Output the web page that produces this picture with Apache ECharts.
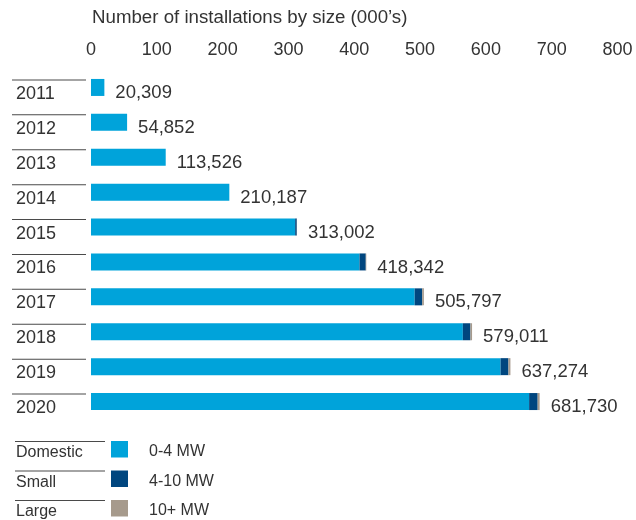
<!DOCTYPE html>
<html>
<head>
<meta charset="utf-8">
<script src="https://cdn.jsdelivr.net/npm/echarts@6/dist/echarts.min.js"></script>
<style>html,body{margin:0;padding:0;background:#fff}#c{width:636px;height:520px}</style>
</head>
<body>
<div id="c"></div>
<script>
// Data (thousands of installations)
var years = ['2011','2012','2013','2014','2015','2016','2017','2018','2019','2020'];
var totals = [20309, 54852, 113526, 210187, 313002, 418342, 505797, 579011, 637274, 681730];
var domestic = [20.309, 54.852, 113.526, 210.187, 310.2, 408.0, 491.8, 565.0, 622.3, 665.7];
var small = [0, 0, 0, 0, 2.5, 9.5, 11.5, 11.5, 12.0, 13.0];
var large = [0, 0, 0, 0, 0.3, 0.8, 2.5, 2.5, 3.0, 3.0];
var seriesNames = ['0-4 MW', '4-10 MW', '10+ MW'];
var groupNames = ['Domestic', 'Small', 'Large'];
var xTicks = [0, 100, 200, 300, 400, 500, 600, 700, 800];
var titleText = 'Number of installations by size (000\u2019s)';

var colors = ['#00a3da', '#00467f', '#a69a8c'];
var textColor = '#333333';
var lineColor = '#4a4a4a';
var font = '"Liberation Sans", Arial, Helvetica, sans-serif';

var chart = echarts.init(document.getElementById('c'), null, {renderer: 'canvas'});

function fmt(n) { return n.toString().replace(/\B(?=(\d{3})+(?!\d))/g, ','); }

var valuesBySeries = [domestic, small, large];
var series = seriesNames.map(function (name, i) {
  var s = {
    name: name,
    type: 'bar',
    stack: 'total',
    barWidth: 17,
    data: valuesBySeries[i],
    itemStyle: {color: colors[i]},
    emphasis: {disabled: true},
    animation: false
  };
  if (i === seriesNames.length - 1) {
    s.label = {
      show: true,
      position: 'right',
      distance: 11,
      offset: [0, 5.5],
      fontFamily: font,
      fontSize: 18.5,
      color: textColor,
      formatter: function (p) { return fmt(totals[p.dataIndex]); }
    };
  }
  return s;
});

var graphics = [];
var legendTop = 441;
var rowStep = 29.5;
groupNames.forEach(function (g, i) {
  graphics.push({
    type: 'rect',
    left: 15, top: legendTop + i * rowStep,
    shape: {width: 90, height: 1},
    style: {fill: lineColor},
    silent: true
  });
  graphics.push({
    type: 'text',
    left: 16, top: legendTop + i * rowStep + 4,
    style: {text: g, fontFamily: font, fontSize: 16, fill: textColor},
    silent: true
  });
});

chart.setOption({
  animation: false,
  backgroundColor: '#ffffff',
  title: {
    text: titleText,
    left: 92, top: 8,
    padding: 0,
    textStyle: {fontFamily: font, fontSize: 18.7, fontWeight: 'normal', color: textColor}
  },
  legend: {
    data: seriesNames,
    orient: 'vertical',
    left: 111, top: legendTop - 2.25,
    padding: 0,
    height: 120,
    itemWidth: 17, itemHeight: 16.5, itemGap: 8.5,
    icon: 'rect',
    selectedMode: false,
    formatter: function (name) { return '{t|' + name + '}'; },
    textStyle: {
      fontFamily: font, fontSize: 16, color: textColor,
      rich: {t: {fontFamily: font, fontSize: 16, lineHeight: 16, color: textColor, padding: [5, 0, 0, 16]}}
    }
  },
  grid: {left: 91, right: 18.5, top: 70, height: 349, containLabel: false},
  xAxis: {
    type: 'value',
    position: 'top',
    min: xTicks[0], max: xTicks[xTicks.length - 1], interval: 100,
    axisLine: {show: false}, axisTick: {show: false}, splitLine: {show: false},
    axisLabel: {fontFamily: font, fontSize: 18, color: textColor, margin: 11}
  },
  yAxis: {
    type: 'category',
    inverse: true,
    data: years,
    axisLine: {show: false}, axisTick: {show: false}, splitLine: {show: false},
    axisLabel: {
      align: 'left',
      margin: 79,
      padding: [12, 0, 0, 0],
      formatter: function (v) { return '{ln|}\n{yr|' + v + '}'; },
      rich: {
        ln: {width: 74, height: 1, lineHeight: 1, backgroundColor: lineColor},
        yr: {fontFamily: font, fontSize: 18, color: textColor, lineHeight: 27, padding: [0, 0, 0, 4]}
      }
    }
  },
  graphic: graphics,
  series: series
});
</script>
</body>
</html>
